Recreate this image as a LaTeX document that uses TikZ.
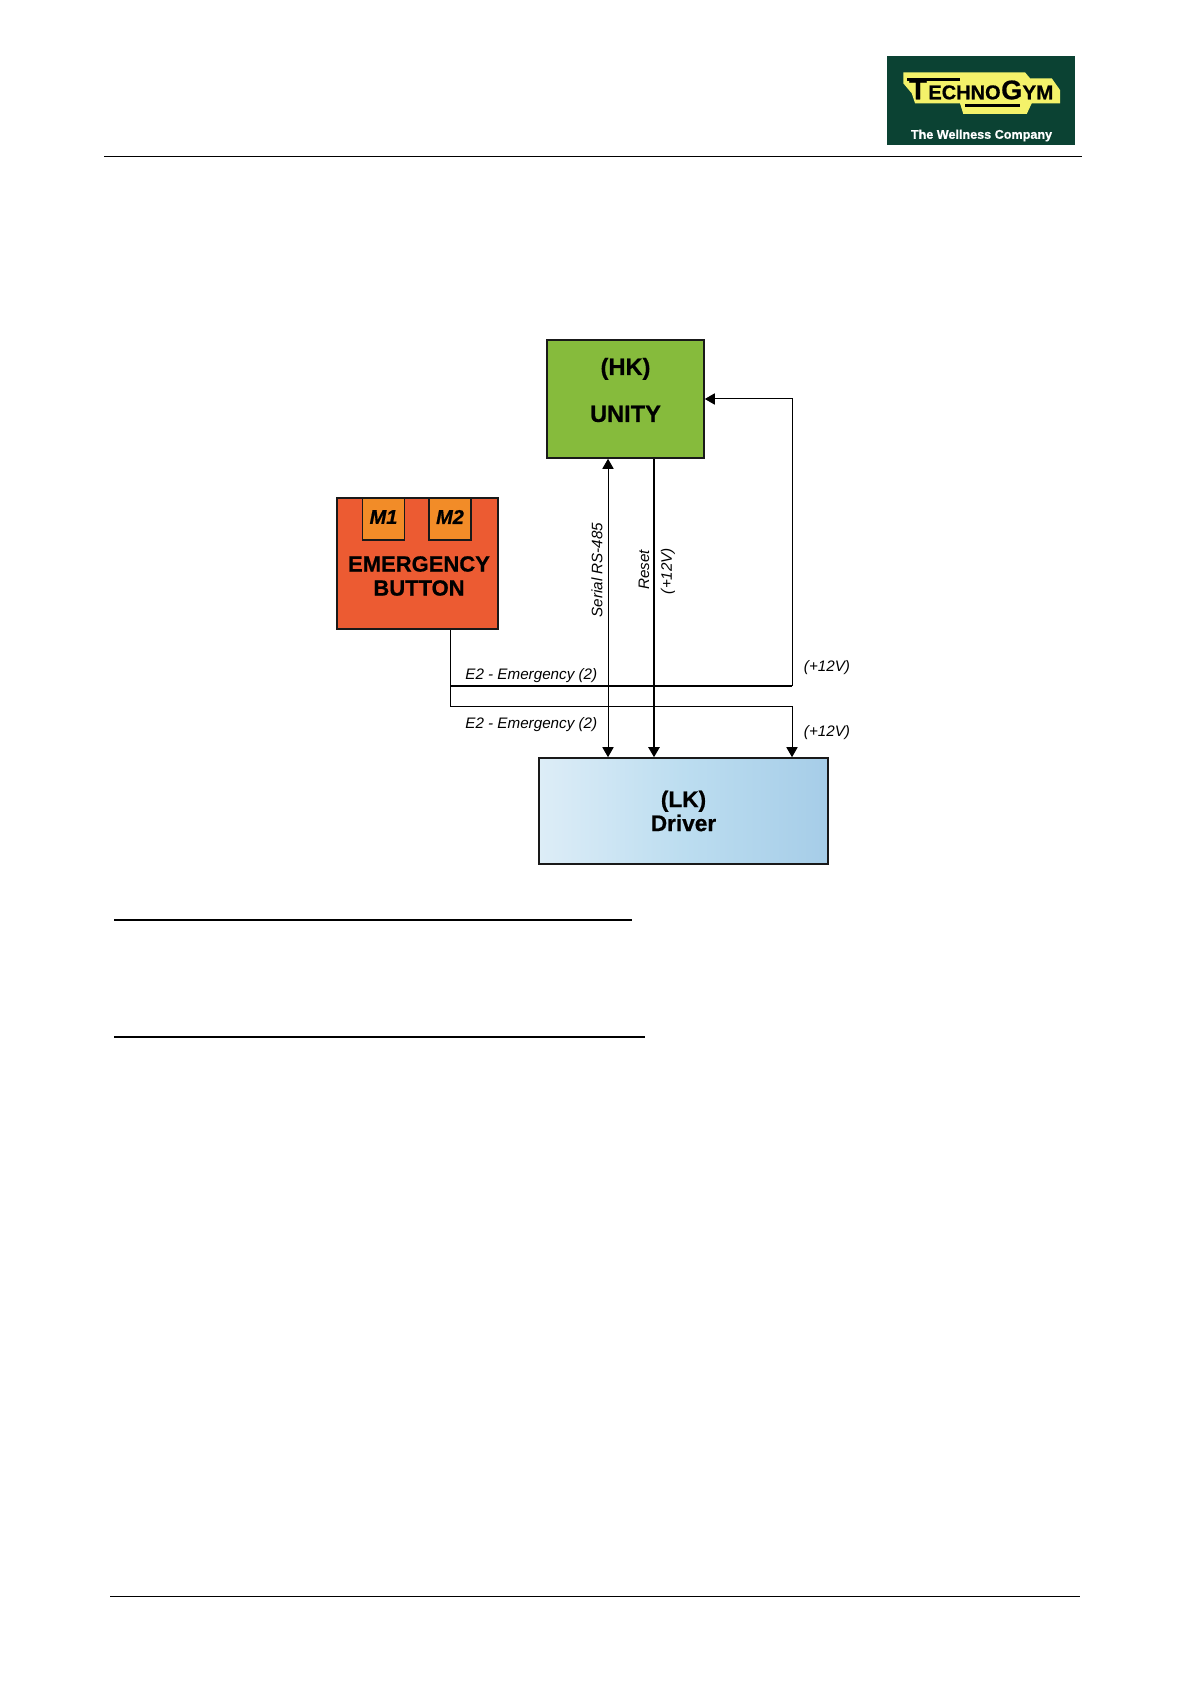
\documentclass[tikz,border=0pt]{standalone}
\usepackage{fontspec}
\setmainfont[BoldFeatures={FakeBold=0.7},BoldItalicFeatures={FakeBold=0.7}]{Liberation Sans}
\usetikzlibrary{arrows.meta}
\definecolor{unitygreen}{HTML}{86BB3C}
\definecolor{buttonred}{HTML}{EC5B32}
\definecolor{moduleorange}{HTML}{F28C28}
\definecolor{driverlight}{HTML}{DDEDF7}
\definecolor{drivermid}{HTML}{BCDDF0}
\definecolor{driverdark}{HTML}{A6CDE8}
\definecolor{logogreen}{HTML}{0B4233}
\definecolor{logoyellow}{HTML}{F4F26A}
\begin{document}
\begin{tikzpicture}[
  x=0.5pt, y=-0.5pt,
  >={Stealth[inset=0pt,length=5pt,width=5.6pt]},
  unit/.style={draw=black!90, line width=0.8pt, inner sep=0pt, align=center, font=\fontsize{11.3}{12}\selectfont\bfseries},
  unittext/.style={inner sep=0pt, align=center, font=\fontsize{11}{12}\selectfont\bfseries},
  module/.style={unit, line width=0.6pt, fill=moduleorange, minimum size=21pt, font=\fontsize{10}{12}\selectfont\bfseries\itshape},
  wire/.style={draw, line width=0.5pt},
  heavywire/.style={draw, line width=0.85pt},
  signal/.style={font=\fontsize{7.6}{9}\selectfont\itshape, inner sep=0pt},
  logotext/.style={font=\fontsize{10}{10}\selectfont\bfseries, inner sep=0pt, anchor=base}
]
\useasboundingbox (0,0) rectangle (1191,1684);
\node[unit, fill=unitygreen, minimum width=78.5pt, minimum height=59pt] (hk) at (625.5,399) {};
\node[unittext, font=\fontsize{11.8}{13}\selectfont\bfseries] (hktext) at (625.5,390) {(HK)\\[10.5pt]UNITY};
\node[unit, fill=buttonred, minimum width=80.5pt, minimum height=65.5pt] (button) at (417.5,563.5) {};
\node[unittext] (buttontext) at (419,576) {EMERGENCY\\BUTTON};
\node[module, text depth=2pt] (m1) at (383.5,519) {M1};
\node[module, text depth=2pt] (m2) at (450,519) {M2};
\node[unit, left color=driverlight, right color=driverdark, middle color=drivermid, minimum width=144.5pt, minimum height=53pt] (lk) at (683.5,811) {(LK)\\Driver};

\coordinate (serial) at (608,600);
\coordinate (reset) at (654,600);
\coordinate (branch) at (450,686);
\coordinate (lower) at (450,706);
\coordinate (return) at (792,686);
\coordinate (lowerend) at (792,706);

\draw[wire, <->] (serial|-hk.south) -- (serial|-lk.north);
\draw[heavywire, ->] (reset|-hk.south) -- (reset|-lk.north);
\draw[wire] (branch|-button.south) -- (lower) -- (lowerend);
\draw[wire, ->] (lowerend) -- (lowerend|-lk.north);
\draw[heavywire] (branch) -- (return);
\draw[wire, ->] (return) -- (return|-hk.east) -- (hk.east);

\node[signal, rotate=90] (seriallabel) at (597,570) {Serial RS-485};
\node[signal, rotate=90] (resetlabel) at (644,570) {Reset};
\node[signal, rotate=90] (resetvolt) at (668,571) {(+12V)};
\node[signal, anchor=west] (emgupper) at (465,675.5) {E2 - Emergency (2)};
\node[signal, anchor=west] (emglower) at (465,724.5) {E2 - Emergency (2)};
\node[signal] (voltupper) at (827,667.5) {(+12V)};
\node[signal] (voltlower) at (827,733) {(+12V)};

\fill[logogreen] (887,56) rectangle (1075,145);
\fill[logoyellow] (903.3,72.3) -- (1025,72.3) -- (1030,78.3) -- (1051.7,78.3) -- (1060,90) -- (1060,103.3) -- (1031.7,103.3) -- (1026.7,114) -- (963.3,114) -- (960,103.3) -- (915,103.3) -- (911.7,93.3) -- (903.3,83.3) -- cycle;
\fill[black] (906.7,78) rectangle (960,81);
\fill[black] (965,104) rectangle (1020,107);
\node[logotext, font=\fontsize{14.5}{14.5}\selectfont\bfseries] (logot) at (918,99.3) {T};
\node[logotext, anchor=base west] (logoechno) at (928,99.3) {ECHNO};
\node[logotext, font=\fontsize{13.5}{13.5}\selectfont\bfseries] (logog) at (1011.7,99.3) {G};
\node[logotext, anchor=base west, xscale=1.03] (logoym) at (1022,99.3) {YM};
\node[logotext, anchor=center, text=white, font=\fontsize{6.3}{6}\selectfont\bfseries] (logoslogan) at (981.5,135.5) {The Wellness Company};

\draw[line width=0.5pt] (104,156.5) -- (1082,156.5);
\draw[line width=0.9pt] (114,920) -- (632,920);
\draw[line width=0.9pt] (114,1037) -- (645,1037);
\draw[line width=0.5pt] (110,1596) -- (1080,1596);
\end{tikzpicture}
\end{document}
